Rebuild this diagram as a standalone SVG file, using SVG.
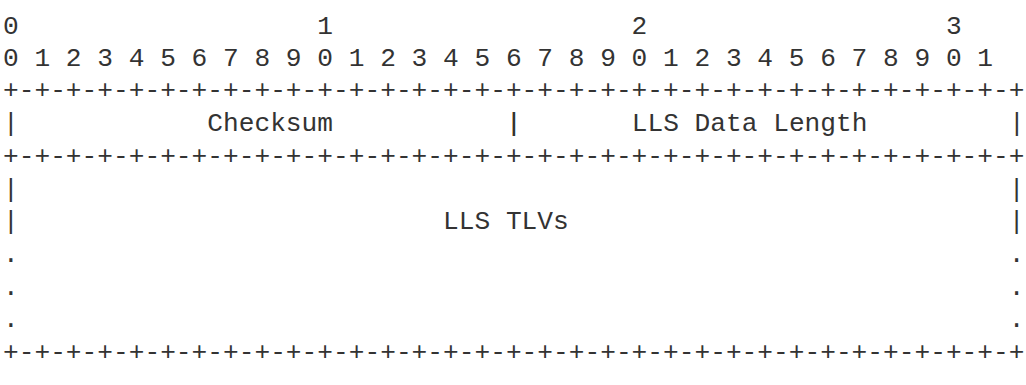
<svg xmlns="http://www.w3.org/2000/svg" width="1026" height="385" viewBox="0 0 1026 385">
<style>
text{font-family:"Liberation Mono","DejaVu Sans Mono",monospace;font-size:26.2px;fill:#333;white-space:pre}
</style>
<rect width="1026" height="385" fill="#fff"/>
<g id="ruler">
<text x="3" y="33.5" xml:space="preserve">0                   1                   2                   3</text>
<text x="3" y="65.7" xml:space="preserve">0 1 2 3 4 5 6 7 8 9 0 1 2 3 4 5 6 7 8 9 0 1 2 3 4 5 6 7 8 9 0 1</text>
</g>
<g id="borders">
<text x="3" y="98.4">+-+-+-+-+-+-+-+-+-+-+-+-+-+-+-+-+-+-+-+-+-+-+-+-+-+-+-+-+-+-+-+-+</text>
<text x="3" y="163.8">+-+-+-+-+-+-+-+-+-+-+-+-+-+-+-+-+-+-+-+-+-+-+-+-+-+-+-+-+-+-+-+-+</text>
<text x="3" y="360">+-+-+-+-+-+-+-+-+-+-+-+-+-+-+-+-+-+-+-+-+-+-+-+-+-+-+-+-+-+-+-+-+</text>
</g>
<g id="checksum">
<text x="3" y="131.1" xml:space="preserve">|            Checksum           |</text>
</g>
<g id="lls-data-length">
<text x="506.04" y="131.1" xml:space="preserve">|       LLS Data Length         |</text>
</g>
<g id="lls-tlvs">
<text x="3" y="196.5" xml:space="preserve">|                                                               |</text>
<text x="3" y="229.2" xml:space="preserve">|                           LLS TLVs                            |</text>
<text x="3" y="261.9" xml:space="preserve">.                                                               .</text>
<text x="3" y="294.6" xml:space="preserve">.                                                               .</text>
<text x="3" y="327.3" xml:space="preserve">.                                                               .</text>
</g>
</svg>
